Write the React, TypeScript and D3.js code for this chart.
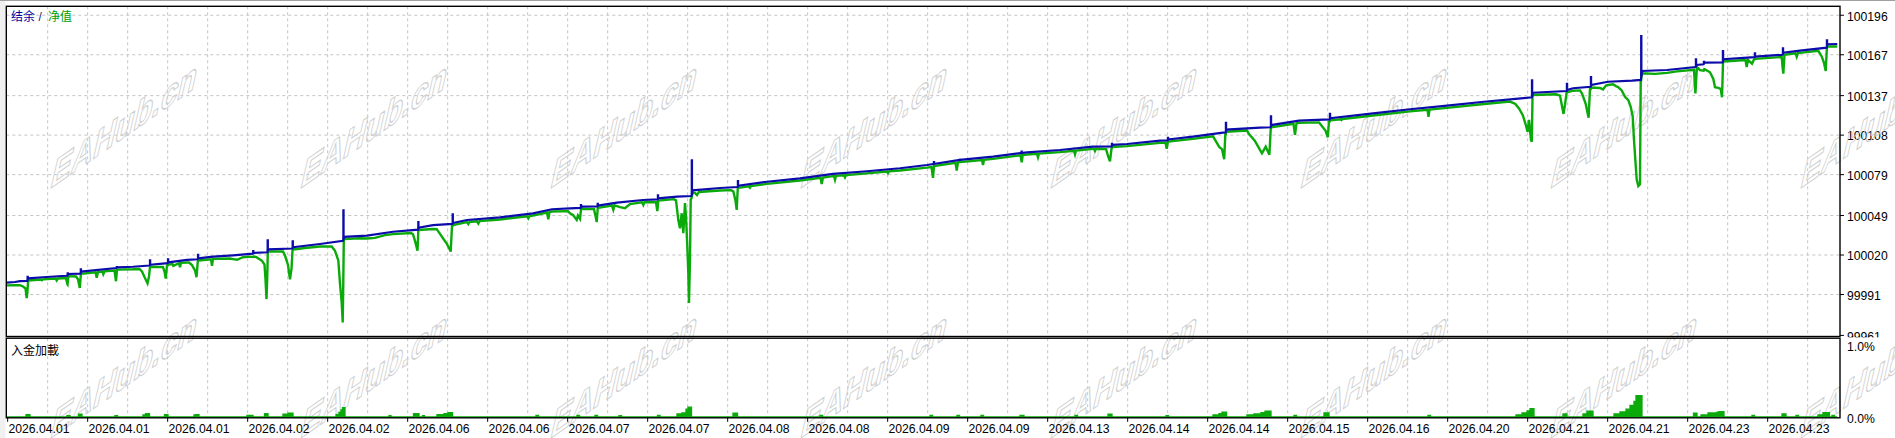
import React from "react";
import * as d3 from "d3";

// date labels every 20 bars along the bottom
const dateLabels = [
  "2026.04.01", "2026.04.01", "2026.04.01", "2026.04.02", "2026.04.02", "2026.04.06",
  "2026.04.06", "2026.04.07", "2026.04.07", "2026.04.08", "2026.04.08", "2026.04.09",
  "2026.04.09", "2026.04.13", "2026.04.14", "2026.04.14", "2026.04.15", "2026.04.16",
  "2026.04.20", "2026.04.21", "2026.04.21", "2026.04.23", "2026.04.23",
];

const priceTicks = [100196, 100167, 100137, 100108, 100079, 100049, 100020, 99991, 99961];
const loadTicks = [1, 0];

// balance: [bar, value]
const balance: [number, number][] = [
  [-0.25, 99999.7], [1.83, 100000.2], [3.08, 100000.9], [4.9, 100001.0], [5.1, 100002.9],
  [8.83, 100003.7], [13.58, 100004.6], [14.95, 100004.8], [15.1, 100006.1], [18.2, 100006.3],
  [18.4, 100007.8], [27.2, 100010.5], [27.4, 100010.9], [31.33, 100011.4], [35.5, 100012.3],
  [35.7, 100012.9], [40.0, 100014.0], [40.2, 100014.6], [44.83, 100016.4], [47.5, 100016.9],
  [47.7, 100017.6], [51.33, 100018.8], [56.33, 100019.8], [61.33, 100021.0], [61.5, 100021.5],
  [64.95, 100022.0], [65.1, 100024.2], [71.2, 100024.8], [71.35, 100025.7], [78.08, 100028.1],
  [83.85, 100030.5], [84.1, 100033.3], [89.83, 100034.2], [96.33, 100037.1], [102.6, 100038.6],
  [102.75, 100040.0], [106.33, 100042.0], [111.2, 100042.9], [111.35, 100043.5], [114.83, 100045.7],
  [123.08, 100047.7], [131.33, 100050.6], [136.08, 100053.6], [140.58, 100054.3], [143.25, 100054.6],
  [143.4, 100055.5], [147.45, 100055.7], [147.6, 100056.3], [152.33, 100058.4], [158.83, 100060.4],
  [162.5, 100060.8], [162.65, 100061.6], [167.33, 100062.8], [170.95, 100063.3], [171.25, 100067.5],
  [178.08, 100069.2], [182.5, 100069.9], [182.65, 100070.9], [189.83, 100073.8], [198.08, 100076.3],
  [206.33, 100079.5], [214.83, 100081.5], [223.08, 100083.7], [229.83, 100086.1], [238.08, 100089.8],
  [246.33, 100092.2], [254.83, 100095.4], [263.08, 100097.1], [271.33, 100099.5], [276.0, 100099.8],
  [276.15, 100100.9], [279.83, 100101.5], [288.08, 100103.9], [290.0, 100104.1], [290.15, 100104.8],
  [296.33, 100106.9], [303.83, 100109.8], [304.5, 100110.0], [304.65, 100112.1], [313.08, 100113.5],
  [315.75, 100113.8], [315.9, 100115.4], [322.83, 100118.6], [330.5, 100119.5], [330.65, 100120.4],
  [341.33, 100124.0], [350.58, 100127.0], [359.83, 100129.6], [369.08, 100132.5], [378.33, 100135.0],
  [381.05, 100135.8], [381.3, 100139.1], [389.75, 100140.4], [389.9, 100141.1], [391.33, 100142.4],
  [395.75, 100143.5], [395.9, 100144.8], [400.08, 100147.2], [406.08, 100148.0], [408.3, 100148.5],
  [408.55, 100155.1], [414.83, 100155.8], [422.0, 100158.0], [422.15, 100159.5], [424.0, 100160.0],
  [424.15, 100161.2], [428.75, 100161.3], [428.9, 100163.7], [436.75, 100165.2], [436.9, 100165.6],
  [443.75, 100167.0], [443.9, 100168.5], [448.08, 100170.0], [454.75, 100172.2], [454.9, 100174.7],
  [457.4, 100174.9],
];

// short balance spikes: [bar, top value]
const balanceSpikes: [number, number][] = [
  [5.0, 100004.8], [15.02, 100007.3], [18.3, 100010.3], [27.3, 100011.9], [35.6, 100016.9],
  [40.1, 100017.6], [47.6, 100021.0], [61.4, 100023.7], [65.02, 100031.5], [71.27, 100030.8],
  [83.95, 100053.6], [102.68, 100045.0], [111.27, 100050.6], [143.33, 100057.5], [147.52, 100058.4],
  [162.58, 100064.6], [171.05, 100090.3], [182.58, 100075.1], [231.58, 100089.0], [238.1, 100090.7],
  [253.5, 100096.7], [276.08, 100102.4], [290.08, 100106.9], [304.58, 100117.9], [315.83, 100122.6],
  [330.58, 100124.5], [381.1, 100149.0], [389.83, 100146.5], [395.83, 100151.4], [408.4, 100181.5],
  [422.08, 100164.4], [424.08, 100162.6], [428.83, 100170.5], [436.83, 100168.8], [443.83, 100172.5],
  [454.83, 100178.3],
];

// floating drawdown of equity below balance: [bar, amount]
const equityDrawdown: [number, number][] = [
  [-0.25, 2.0], [1.83, 2.4], [3.08, 3.0], [3.83, 4.0], [4.46, 5.5], [4.76, 12.7], [4.91, 9], [5.13, 1.6],
  [8.33, 1.6], [8.58, 2.2], [8.83, 1.6], [12.0, 1.6], [12.26, 3.0], [12.58, 1.6],
  [14.58, 1.8], [14.96, 6.6], [15.21, 1.6], [17.08, 2.0], [17.58, 4.0], [18.03, 10.5], [18.28, 1.6],
  [21.96, 1.6], [22.26, 5.6], [22.58, 1.6], [23.71, 1.6], [23.91, 3.5], [24.21, 1.6],
  [26.71, 1.8], [27.08, 9.7], [27.33, 1.6], [32.96, 2.0], [33.58, 4.0], [34.33, 9.0], [34.96, 13.0],
  [35.33, 8.0], [35.58, 1.6], [38.83, 2.5], [39.21, 6], [39.51, 11.2], [39.83, 1.6],
  [41.21, 1.6], [41.41, 3.0], [42.83, 1.6], [43.08, 4.6], [43.33, 1.6],
  [45.33, 2.0], [46.08, 4.0], [46.83, 8.0], [47.21, 13.1], [47.53, 1.6],
  [50.83, 1.8], [51.08, 6.6], [51.33, 1.6], [55.58, 2.2], [57.33, 3.5], [58.83, 2.0],
  [60.58, 2.0], [62.08, 3.0], [63.58, 6.0], [64.21, 9.0], [64.46, 20], [64.71, 34.3], [64.88, 20], [65.03, 1.6],
  [68.83, 2.0], [69.33, 5.0], [70.08, 12], [70.58, 22.5], [70.96, 15], [71.21, 1.6],
  [74.33, 1.6], [78.08, 1.8], [81.01, 3.0], [81.83, 6.6], [82.66, 14], [83.08, 31], [83.51, 45.5],
  [83.76, 60], [83.91, 30], [84.03, 1.6], [88.08, 1.6], [91.83, 2.5], [94.33, 1.6],
  [100.83, 2.0], [101.33, 3.0], [101.83, 8.0], [102.46, 15.4], [102.66, 1.6],
  [107.26, 3.2], [108.08, 6.8], [108.91, 10.5], [109.76, 14.2], [110.58, 19], [110.76, 20.3], [111.08, 1.6],
  [114.83, 1.6], [115.16, 3.0], [115.46, 1.6], [117.33, 1.6], [117.66, 3.3], [117.96, 1.6],
  [129.83, 1.6], [130.16, 3.2], [130.46, 1.6], [134.83, 1.6], [135.16, 6.8], [135.46, 1.6],
  [140.08, 2.0], [140.58, 3.7], [141.33, 5.0], [142.26, 8.7], [142.58, 5.5], [143.08, 8.0], [143.33, 1.6],
  [146.58, 2.0], [146.96, 7], [147.26, 11.5], [147.51, 1.6], [151.08, 1.6], [151.41, 4.8], [151.71, 1.6],
  [153.08, 3.5], [154.33, 4.6], [155.58, 2.0], [158.58, 1.6], [158.91, 3.7], [159.21, 1.6],
  [162.08, 2.0], [162.41, 8.6], [162.66, 1.6], [166.58, 1.6], [167.08, 2.6], [167.66, 17.2],
  [168.08, 23.3], [168.51, 12.3], [168.91, 27], [169.33, 5], [169.58, 14.8], [169.91, 36.8],
  [170.16, 56.2], [170.33, 78.4], [170.58, 46.6], [170.76, 2.6], [170.96, 1.6],
  [171.83, 2.0], [172.33, 3.7], [172.83, 1.6], [180.83, 2.0], [181.41, 3.0], [181.96, 10],
  [182.26, 16.7], [182.51, 1.6], [185.33, 1.6], [185.58, 2.6], [185.83, 1.6],
  [203.21, 1.6], [203.51, 6.2], [203.83, 1.6], [206.58, 1.6], [206.83, 4.4], [207.08, 1.6],
  [209.08, 1.6], [209.33, 3.2], [209.58, 1.6], [219.83, 1.6], [220.08, 2.8], [220.33, 1.6],
  [230.96, 2.0], [231.33, 10.1], [231.58, 1.6], [236.96, 1.6], [237.26, 7.5], [237.58, 1.6],
  [243.58, 1.6], [243.83, 5.4], [244.08, 1.6], [253.21, 1.6], [253.51, 6.9], [253.76, 1.6],
  [257.33, 1.6], [257.58, 4.2], [257.83, 1.6], [266.58, 1.6], [266.83, 4.3], [267.08, 1.6],
  [271.58, 1.6], [271.83, 3.1], [272.08, 1.6], [274.58, 2.0], [275.21, 8], [275.58, 11], [275.96, 1.6],
  [289.46, 1.6], [289.76, 6.1], [290.03, 1.6], [301.33, 1.7], [302.93, 10.3], [303.58, 12],
  [304.13, 19.5], [304.41, 1.6], [309.83, 1.6], [310.33, 4.3], [311.73, 9.2], [312.66, 14.1],
  [313.58, 18.9], [314.51, 14.1], [315.43, 20.2], [315.76, 1.6], [321.46, 1.6], [321.83, 9.9], [322.21, 1.6],
  [327.83, 1.8], [328.83, 5.7], [329.46, 8], [330.03, 13], [330.33, 1.6],
  [333.33, 1.6], [333.46, 2.2], [333.71, 1.6], [354.96, 1.6], [355.21, 6.8], [355.46, 1.6],
  [375.58, 1.6], [376.93, 3.7], [377.83, 7.3], [378.78, 12.5], [379.43, 18.8], [379.98, 25],
  [380.33, 16.4], [380.83, 31.3], [381.03, 32.6], [381.21, 1.6],
  [387.08, 2.0], [388.08, 3.1], [388.96, 16.7], [389.33, 10], [389.71, 1.6],
  [393.08, 2.0], [393.58, 4.4], [394.51, 12.3], [395.23, 22.6], [395.58, 1.6],
  [398.08, 3.4], [398.83, 4.9], [399.58, 2.5], [401.33, 2.0], [402.08, 3.5], [402.66, 4.4],
  [403.51, 6.8], [404.33, 11.7], [405.16, 14.2], [405.76, 19.1], [406.26, 26.4], [406.58, 43.5],
  [406.91, 58.2], [407.26, 72.9], [407.66, 77.8], [408.08, 76.6], [408.26, 1.6],
  [411.83, 2.5], [417.33, 1.8], [421.58, 2.0], [421.93, 19.3], [422.33, 1.6],
  [423.08, 4.0], [424.33, 5.0], [425.58, 7.1], [426.41, 12], [426.83, 18.1], [427.66, 18.6],
  [428.26, 19.3], [428.58, 25.5], [428.83, 1.6], [434.46, 1.6], [434.76, 6.8], [435.08, 1.6],
  [436.08, 4.6], [436.58, 1.6], [443.51, 1.6], [443.91, 15.4], [444.21, 1.6],
  [446.96, 1.6], [447.26, 4.2], [447.58, 1.6], [452.66, 1.6], [453.51, 6], [454.08, 10.9],
  [454.51, 17], [454.78, 1.6], [457.4, 1.8],
];

// deposit load in percent: [bar, load], held until the next point
const depositLoad: [number, number][] = [
  [-0.25, 0], [4.58, 0.03], [5.58, 0], [14.83, 0.017], [15.58, 0], [17.71, 0.035], [18.58, 0],
  [26.83, 0.017], [27.46, 0], [33.83, 0.026], [34.46, 0.043], [35.46, 0], [39.21, 0.03], [40.08, 0],
  [46.58, 0.026], [47.08, 0.03], [47.83, 0], [59.83, 0.022], [61.33, 0], [64.21, 0.043], [65.08, 0],
  [68.83, 0.035], [70.08, 0.048], [71.33, 0], [82.08, 0.03], [82.83, 0.06], [83.33, 0.09],
  [83.71, 0.121], [84.33, 0], [95.33, 0.017], [95.83, 0], [101.46, 0.043], [102.83, 0],
  [103.71, 0.017], [104.21, 0], [107.33, 0.03], [109.08, 0.043], [110.08, 0.056], [111.21, 0],
  [132.08, 0.022], [132.71, 0], [142.33, 0.022], [142.96, 0], [146.83, 0.022], [147.46, 0],
  [152.83, 0.017], [153.46, 0], [162.46, 0.022], [163.08, 0], [167.33, 0.039], [168.58, 0.052],
  [169.58, 0.1], [170.08, 0.126], [170.96, 0], [181.33, 0.048], [182.46, 0], [203.08, 0.022],
  [203.71, 0], [230.58, 0.022], [231.21, 0], [237.33, 0.022], [237.96, 0], [243.33, 0.022],
  [243.96, 0], [253.08, 0.022], [254.08, 0], [266.83, 0.022], [267.46, 0], [275.08, 0.035],
  [276.08, 0], [289.58, 0.017], [290.21, 0], [301.33, 0.026], [302.83, 0.043], [303.58, 0.061],
  [304.71, 0], [309.83, 0.026], [311.58, 0.039], [313.33, 0.056], [314.33, 0.074], [315.83, 0],
  [321.58, 0.022], [322.21, 0], [329.08, 0.052], [330.33, 0], [355.08, 0.022], [355.71, 0],
  [377.08, 0.026], [378.58, 0.052], [379.83, 0.078], [380.58, 0.108], [381.58, 0],
  [388.83, 0.039], [389.83, 0], [393.83, 0.039], [394.83, 0.074], [396.33, 0],
  [401.58, 0.039], [403.08, 0.065], [404.58, 0.1], [405.58, 0.15], [406.58, 0.2], [407.08, 0.273],
  [408.58, 0], [421.46, 0.048], [422.33, 0], [423.33, 0.026], [425.08, 0.052], [427.33, 0.061],
  [427.83, 0.069], [429.08, 0], [436.08, 0.022], [436.71, 0], [443.58, 0.039], [444.58, 0],
  [447.08, 0.022], [447.71, 0], [452.58, 0.026], [453.83, 0.056], [455.46, 0], [456.08, 0.022],
  [456.71, 0], [457.4, 0],
];

const W = 1895;
const H = 438;
const main = { left: 6.3, right: 1840, top: 6.3, bottom: 336.5 };
const sub = { top: 338.2, bottom: 417.8 };

const BLUE = "#0c0caa";
const GREEN = "#0aaa0a";
const GRID = "#c4c4c4";
const NUM_FONT = "'Liberation Sans', Arial, sans-serif";
const CJK_FONT = "'Noto Sans CJK SC', sans-serif";

const App: React.FC = () => {
  const x = d3.scaleLinear().domain([0, 458]).range([7.67, 1839.67]);
  const yMain = d3.scaleLinear().domain([99961.3, 100196.18]).range([335, 15]);
  const yLoad = d3.scaleLinear().domain([0, 1]).range([417, 339]);

  // piecewise lookups to combine balance and floating drawdown
  const balAt = d3.scaleLinear().domain(balance.map((d) => d[0])).range(balance.map((d) => d[1])).clamp(true);
  const ddAt = d3
    .scaleLinear()
    .domain(equityDrawdown.map((d) => d[0]))
    .range(equityDrawdown.map((d) => d[1]))
    .clamp(true);

  const bars = Array.from(new Set([...balance.map((d) => d[0]), ...equityDrawdown.map((d) => d[0])])).sort(
    (a, b) => a - b
  );
  const equity: [number, number][] = bars.map((b) => [b, balAt(b) - ddAt(b)]);

  const line = d3
    .line<[number, number]>()
    .x((d) => x(d[0]))
    .y((d) => yMain(d[1]));

  const loadArea = d3
    .area<[number, number]>()
    .x((d) => x(d[0]))
    .y0(yLoad(0))
    .y1((d) => yLoad(d[1]))
    .curve(d3.curveStepAfter);
  const loadLine = d3
    .line<[number, number]>()
    .x((d) => x(d[0]))
    .y((d) => yLoad(d[1]))
    .curve(d3.curveStepAfter);

  const gridBars = d3.range(10, 458, 10);
  const watermarkX = d3.range(8).map((i) => 125 + 250 * i);

  return (
    <svg
      width={W}
      height={H}
      style={{ position: "absolute", left: 0, top: 0, background: "#fff" }}
    >
      <defs>
        <clipPath id="mainClip">
          <rect x={main.left} y={main.top} width={main.right - main.left} height={main.bottom - main.top} />
        </clipPath>
        <clipPath id="subClip">
          <rect x={main.left} y={sub.top} width={main.right - main.left} height={sub.bottom - sub.top} />
        </clipPath>
      </defs>

      <rect x={0} y={0} width={W} height={H} fill="#fff" />
      <rect x={0} y={0} width={5.5} height={H} fill="#f0f0f0" />
      <line x1={0} x2={W} y1={0.5} y2={0.5} stroke="#a0a0a0" />

      {/* main grid */}
      <g stroke={GRID} strokeWidth={1} strokeDasharray="3,3">
        {gridBars.map((b) => (
          <line key={"v" + b} x1={x(b)} x2={x(b)} y1={main.top} y2={main.bottom} />
        ))}
        {priceTicks.slice(0, -1).map((v) => (
          <line key={"h" + v} x1={main.left} x2={main.right} y1={yMain(v)} y2={yMain(v)} />
        ))}
      </g>

      {/* right price axis */}
      <g fontFamily={NUM_FONT} fontSize={12.2} fill="#000">
        {priceTicks.map((v) => (
          <g key={"t" + v}>
            <line x1={main.right} x2={main.right + 4} y1={yMain(v)} y2={yMain(v)} stroke="#000" />
            <text x={1847} y={yMain(v) + 5.3}>
              {v}
            </text>
          </g>
        ))}
      </g>

      {/* lower panel background covers the last price label */}
      <rect x={main.left} y={337.4} width={W - main.left} height={sub.bottom - 337.4 + 0.6} fill="#fff" />

      <g stroke={GRID} strokeWidth={1} strokeDasharray="3,3">
        {gridBars.map((b) => (
          <line key={"sv" + b} x1={x(b)} x2={x(b)} y1={sub.top} y2={sub.bottom} />
        ))}
      </g>

      {/* watermarks: slanted, outlined */}
      <g
        fontFamily={NUM_FONT}
        fontWeight="bold"
        fontSize={44}
        fill="none"
        stroke="#cdcdcd"
        strokeWidth={1.3}
        textAnchor="middle"
      >
        {watermarkX.map((cx) =>
          [124, 374].map((cy) => (
            <text
              key={cx + "-" + cy}
              x={0}
              y={15.5}
              transform={`matrix(0.69,-0.48,-0.22,0.97,${cx},${cy})`}
            >
              EAHub.cn
            </text>
          ))
        )}
      </g>

      {/* equity and balance */}
      <g clipPath="url(#mainClip)">
        <path d={line(equity) ?? ""} fill="none" stroke={GREEN} strokeWidth={2.4} />
        <path d={line(balance) ?? ""} fill="none" stroke={BLUE} strokeWidth={2.2} />
        {balanceSpikes.map(([b, top]) => (
          <line
            key={"s" + b}
            x1={x(b)}
            x2={x(b)}
            y1={yMain(balAt(b))}
            y2={yMain(top)}
            stroke={BLUE}
            strokeWidth={2.4}
          />
        ))}
      </g>

      {/* deposit load */}
      <g clipPath="url(#subClip)">
        <path d={loadArea(depositLoad) ?? ""} fill={GREEN} stroke="none" />
        <path d={loadLine(depositLoad) ?? ""} fill="none" stroke={GREEN} strokeWidth={1.3} />
      </g>

      {/* frames */}
      <rect
        x={main.left}
        y={main.top}
        width={main.right - main.left}
        height={main.bottom - main.top}
        fill="none"
        stroke="#000"
        strokeWidth={1.4}
      />
      <rect
        x={main.left}
        y={sub.top}
        width={main.right - main.left}
        height={sub.bottom - sub.top}
        fill="none"
        stroke="#000"
        strokeWidth={1.4}
      />

      {/* load axis */}
      <g fontFamily={NUM_FONT} fontSize={12.2} fill="#000">
        {loadTicks.map((v) => (
          <text key={"l" + v} x={1847} y={v === 1 ? yLoad(v) + 11.7 : yLoad(v) + 5.5}>
            {v.toFixed(1) + "%"}
          </text>
        ))}
      </g>

      {/* time axis */}
      <g fontFamily={NUM_FONT} fontSize={12.2} fill="#000">
        {dateLabels.map((lab, i) => (
          <g key={"d" + i}>
            <line x1={x(i * 20)} x2={x(i * 20)} y1={sub.bottom} y2={sub.bottom + 4} stroke="#000" />
            <text x={x(i * 20) + 0.8} y={432.5}>
              {lab}
            </text>
          </g>
        ))}
      </g>

      {/* legends */}
      <text x={11} y={21.3} fontFamily={CJK_FONT} fontSize={12}>
        <tspan fill="#0000a0">结余</tspan>
        <tspan x={38.5} fill="#1a1a70" fontFamily={NUM_FONT}>
          /
        </tspan>
        <tspan x={48} fill="#00a000">
          净值
        </tspan>
      </text>
      <text x={11} y={354.5} fontFamily={CJK_FONT} fontSize={12} fill="#000">
        入金加載
      </text>
    </svg>
  );
};

export default App;
